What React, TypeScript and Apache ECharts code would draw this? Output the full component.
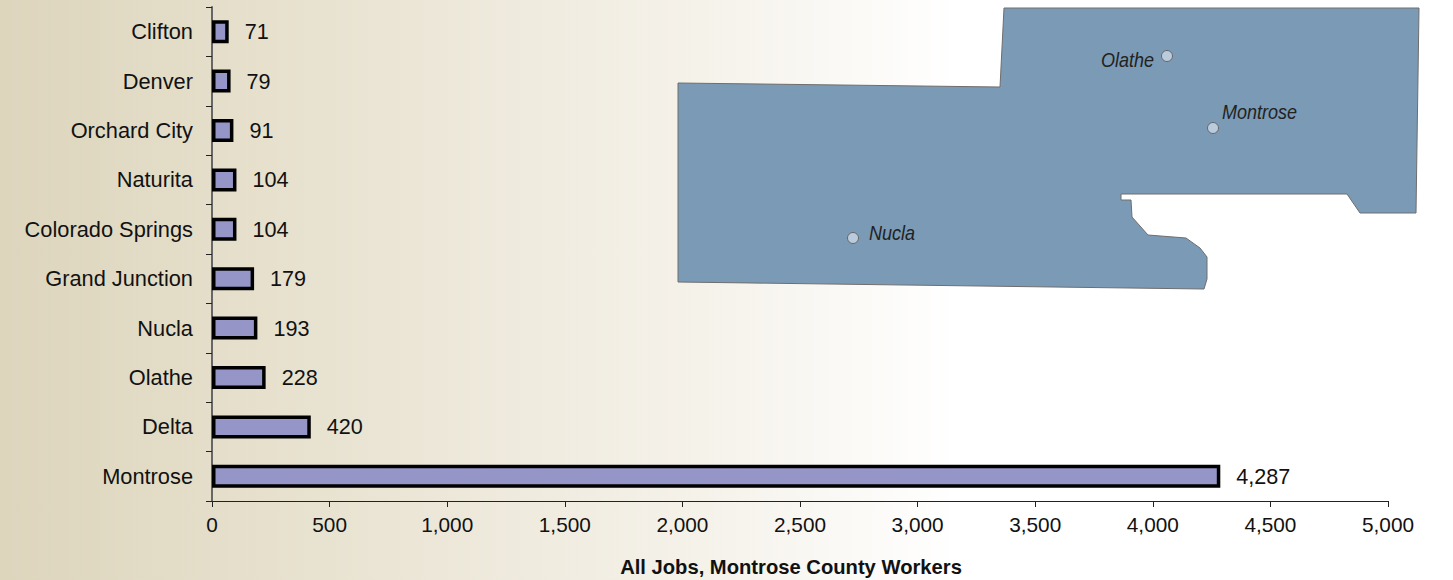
import React, { useEffect, useRef } from "react";
import * as echarts from "echarts";

const categories = ["Montrose", "Delta", "Olathe", "Nucla", "Grand Junction", "Colorado Springs", "Naturita", "Orchard City", "Denver", "Clifton"];
const jobs = [4287, 420, 228, 193, 179, 104, 104, 91, 79, 71];
const axisTitle = "All Jobs, Montrose County Workers";
const mapOutline = [[1004,8],[1419,8],[1416,213],[1360,213],[1347,194],[1121,194],[1121,200],[1131,200],[1132,217],[1148,235],[1186,238],[1200,248],[1207,257],[1207,279],[1204,289],[678,282],[678,83],[1000,87]];
const mapPlaces = [
  { name: "Olathe", cx: 1167, cy: 56, tx: 1101, ty: 60 },
  { name: "Montrose", cx: 1213, cy: 128, tx: 1222, ty: 112 },
  { name: "Nucla", cx: 853, cy: 238, tx: 869, ty: 233 },
];
const FONT = '"Liberation Sans", Arial, sans-serif';
const fmt = (v: number) => Number(v).toLocaleString("en-US");

export default function App() {
  const ref = useRef<HTMLDivElement>(null);
  useEffect(() => {
    document.body.style.margin = "0";
    const chart = echarts.init(ref.current!, undefined, { renderer: "svg" });
    chart.setOption({
      animation: false,
      backgroundColor: new echarts.graphic.LinearGradient(0, 0, 1, 0, [
        { offset: 0, color: "#ddd5bc" },
        { offset: 0.3, color: "#ece7d8" },
        { offset: 0.5, color: "#f6f3ec" },
        { offset: 0.66, color: "#ffffff" },
        { offset: 1, color: "#ffffff" },
      ]),
      title: {
        text: axisTitle,
        left: 786,
        top: 552,
        textAlign: "center",
        textStyle: { fontFamily: FONT, fontSize: 20.2, fontWeight: "bold", color: "#111" },
      },
      grid: { left: 212, right: 65, top: 7, height: 494 },
      xAxis: {
        type: "value",
        min: 0,
        max: 5000,
        interval: 500,
        position: "bottom",
        splitLine: { show: false },
        axisLine: { show: true, lineStyle: { color: "#222", width: 1 } },
        axisTick: { show: true, length: 6, lineStyle: { color: "#222", width: 1 } },
        axisLabel: { formatter: fmt, fontFamily: FONT, fontSize: 20.8, color: "#111", margin: 13 },
      },
      yAxis: {
        type: "category",
        data: categories,
        axisLine: { show: true, lineStyle: { color: "#666", width: 2 } },
        axisTick: { show: true, length: 6, lineStyle: { color: "#222", width: 1 } },
        axisLabel: { fontFamily: FONT, fontSize: 21.8, color: "#111", margin: 19 },
      },
      series: [{
        type: "bar",
        data: jobs,
        barWidth: 23,
        itemStyle: { color: "#9595c8", borderColor: "#000", borderWidth: 3.5 },
        label: { show: true, position: "right", distance: 16, formatter: (p: any) => fmt(p.value), fontFamily: FONT, fontSize: 21.6, color: "#111" },
      }],
      graphic: [
        { type: "polygon", z: 5, shape: { points: mapOutline }, style: { fill: "#7b9ab5", stroke: "#6e6e6e", lineWidth: 1 } },
        ...mapPlaces.flatMap((p) => [
          { type: "circle", z: 6, shape: { cx: p.cx, cy: p.cy, r: 5.5 }, style: { fill: "#b9cbdc", stroke: "#666", lineWidth: 1 } },
          { type: "text", z: 6, x: p.tx, y: p.ty, scaleX: 0.9, style: { text: p.name, fontFamily: FONT, fontSize: 20, fontStyle: "italic", fill: "#222", verticalAlign: "middle" } },
        ]),
      ],
    });
    return () => chart.dispose();
  }, []);
  return <div ref={ref} style={{ width: 1453, height: 580 }} />;
}
